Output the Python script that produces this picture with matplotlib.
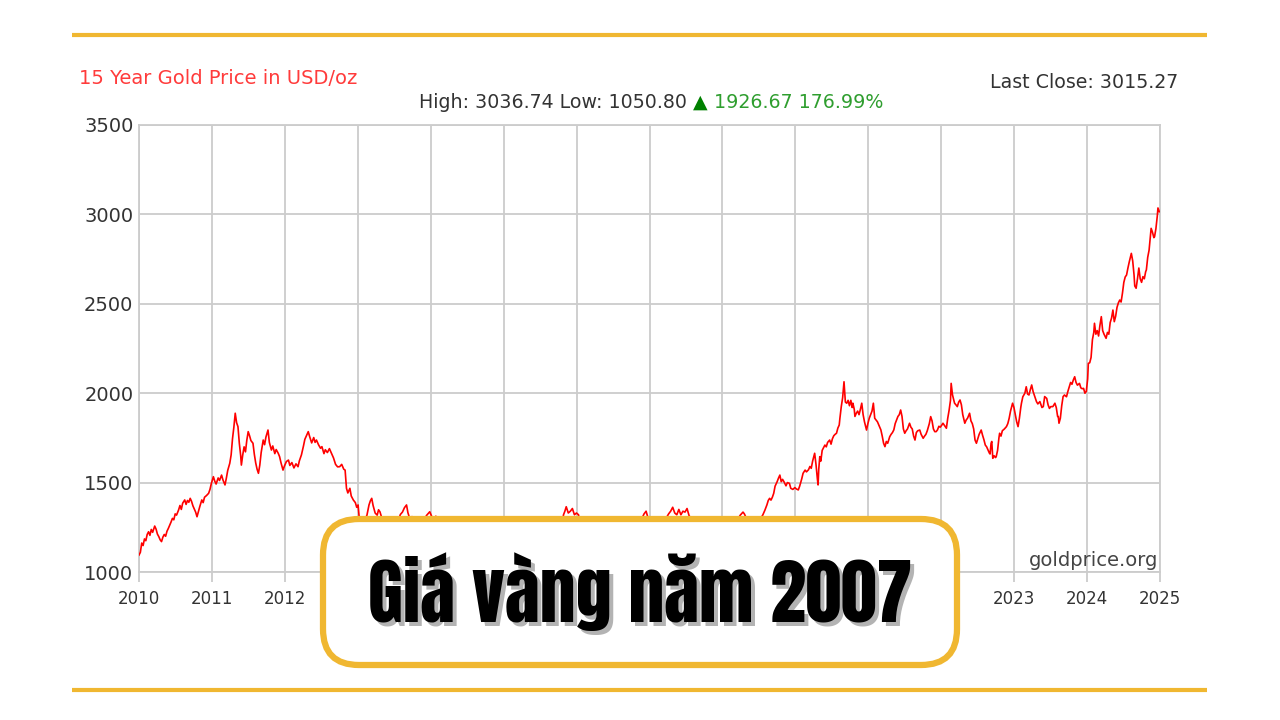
import numpy as np
import matplotlib
matplotlib.use("Agg")
import matplotlib.pyplot as plt
from matplotlib import font_manager as fm
from matplotlib.patches import FancyBboxPatch

# gold price (USD/oz), x in decimal years
dates = [
    2010.27, 2010.29, 2010.31, 2010.33, 2010.35, 2010.37, 2010.39, 2010.41, 2010.43, 2010.45, 2010.47, 2010.50, 2010.52, 2010.54, 2010.56, 2010.58, 2010.60, 2010.62, 2010.64, 2010.66, 2010.68, 2010.70, 2010.72, 2010.74, 2010.76, 2010.78, 2010.80, 2010.82, 2010.85, 2010.87, 2010.89, 2010.91, 2010.94, 2010.96, 2010.98,
    2011.00, 2011.02, 2011.04, 2011.06, 2011.08, 2011.10, 2011.12, 2011.14, 2011.16, 2011.19, 2011.21, 2011.23, 2011.26, 2011.29, 2011.31, 2011.33, 2011.36, 2011.38, 2011.40, 2011.43, 2011.45, 2011.48, 2011.50, 2011.53, 2011.55, 2011.57, 2011.60, 2011.62, 2011.64, 2011.66, 2011.68, 2011.70, 2011.72, 2011.74, 2011.76, 2011.77, 2011.79, 2011.81, 2011.83, 2011.85, 2011.87, 2011.89, 2011.91, 2011.94, 2011.96, 2011.98,
    2012.00, 2012.02, 2012.04, 2012.06, 2012.09, 2012.11, 2012.13, 2012.16, 2012.18, 2012.21, 2012.23, 2012.26, 2012.28, 2012.31, 2012.33, 2012.35, 2012.38, 2012.40, 2012.43, 2012.46, 2012.48, 2012.51, 2012.54, 2012.57, 2012.60, 2012.62, 2012.65, 2012.68, 2012.70, 2012.73, 2012.75, 2012.77, 2012.80, 2012.83, 2012.85, 2012.87, 2012.90, 2012.93, 2012.95, 2012.98,
    2013.00, 2013.03, 2013.06, 2013.09, 2013.12, 2013.15, 2013.18, 2013.21, 2013.24, 2013.27, 2013.29, 2013.31, 2013.33, 2013.36, 2013.38, 2013.41, 2013.44, 2013.46, 2013.48, 2013.50, 2013.52, 2013.55, 2013.58, 2013.61, 2013.64, 2013.66, 2013.68, 2013.70, 2013.73, 2013.76, 2013.78, 2013.80, 2013.83, 2013.86, 2013.89, 2013.92, 2013.95, 2013.98,
    2014.01, 2014.04, 2014.07, 2014.10, 2014.13, 2014.16, 2014.19, 2014.21, 2014.24, 2014.27, 2014.30, 2014.33, 2014.36, 2014.39, 2014.42, 2014.45, 2014.48, 2014.51, 2014.53, 2014.56, 2014.59, 2014.62, 2014.65, 2014.68, 2014.71, 2014.74, 2014.77, 2014.80, 2014.83, 2014.85, 2014.88, 2014.91, 2014.94, 2014.97,
    2015.00, 2015.03, 2015.06, 2015.09, 2015.12, 2015.15, 2015.18, 2015.21, 2015.24, 2015.27, 2015.30, 2015.33, 2015.36, 2015.39, 2015.42, 2015.45, 2015.48, 2015.51, 2015.54, 2015.57, 2015.60, 2015.63, 2015.66, 2015.69, 2015.72, 2015.75, 2015.78, 2015.81, 2015.84, 2015.87, 2015.90, 2015.93, 2015.96, 2015.99,
    2016.02, 2016.05, 2016.08, 2016.11, 2016.14, 2016.17, 2016.20, 2016.23, 2016.26, 2016.29, 2016.32, 2016.35, 2016.38, 2016.41, 2016.44, 2016.47, 2016.49, 2016.51, 2016.53, 2016.56, 2016.59, 2016.62, 2016.65, 2016.68, 2016.71, 2016.74, 2016.77, 2016.80, 2016.83, 2016.86, 2016.89, 2016.92, 2016.95, 2016.98,
    2017.01, 2017.04, 2017.07, 2017.10, 2017.13, 2017.16, 2017.19, 2017.22, 2017.25, 2017.28, 2017.31, 2017.34, 2017.37, 2017.40, 2017.43, 2017.46, 2017.49, 2017.52, 2017.55, 2017.58, 2017.61, 2017.64, 2017.67, 2017.70, 2017.73, 2017.76, 2017.79, 2017.82, 2017.85, 2017.88, 2017.91, 2017.94, 2017.97,
    2018.00, 2018.03, 2018.06, 2018.09, 2018.12, 2018.15, 2018.18, 2018.21, 2018.24, 2018.27, 2018.30, 2018.33, 2018.36, 2018.39, 2018.42, 2018.45, 2018.48, 2018.51, 2018.54, 2018.57, 2018.60, 2018.63, 2018.66, 2018.69, 2018.72, 2018.75, 2018.78, 2018.81, 2018.84, 2018.87, 2018.90, 2018.93, 2018.96, 2018.99,
    2019.02, 2019.05, 2019.08, 2019.12, 2019.14, 2019.17, 2019.20, 2019.23, 2019.26, 2019.29, 2019.32, 2019.35, 2019.38, 2019.41, 2019.44, 2019.47, 2019.49, 2019.51, 2019.53, 2019.55, 2019.57, 2019.59, 2019.62, 2019.64, 2019.66, 2019.68, 2019.70, 2019.72, 2019.75, 2019.77, 2019.80, 2019.82, 2019.85, 2019.88, 2019.90, 2019.93, 2019.95, 2019.98,
    2020.00, 2020.03, 2020.05, 2020.08, 2020.10, 2020.12, 2020.14, 2020.17, 2020.19, 2020.21, 2020.22, 2020.23, 2020.245, 2020.26, 2020.28, 2020.30, 2020.32, 2020.34, 2020.36, 2020.39, 2020.41, 2020.43, 2020.45, 2020.47, 2020.49, 2020.51, 2020.53, 2020.54, 2020.56, 2020.58, 2020.60, 2020.61, 2020.62, 2020.64, 2020.66, 2020.68, 2020.70, 2020.72, 2020.73, 2020.75, 2020.76, 2020.78, 2020.80, 2020.82, 2020.84, 2020.86, 2020.88, 2020.90, 2020.93, 2020.95, 2020.97, 2020.99,
    2021.01, 2021.03, 2021.05, 2021.07, 2021.09, 2021.12, 2021.14, 2021.16, 2021.18, 2021.20, 2021.22, 2021.24, 2021.27, 2021.29, 2021.31, 2021.33, 2021.35, 2021.37, 2021.39, 2021.41, 2021.43, 2021.45, 2021.47, 2021.49, 2021.51, 2021.53, 2021.56, 2021.58, 2021.60, 2021.62, 2021.64, 2021.66, 2021.68, 2021.71, 2021.73, 2021.76, 2021.78, 2021.80, 2021.82, 2021.85, 2021.87, 2021.89, 2021.91, 2021.93, 2021.95, 2021.97, 2021.99,
    2022.01, 2022.03, 2022.05, 2022.08, 2022.10, 2022.12, 2022.14, 2022.16, 2022.17, 2022.19, 2022.22, 2022.24, 2022.26, 2022.28, 2022.30, 2022.32, 2022.34, 2022.37, 2022.39, 2022.41, 2022.44, 2022.46, 2022.48, 2022.50, 2022.52, 2022.54, 2022.56, 2022.58, 2022.61, 2022.63, 2022.65, 2022.67, 2022.69, 2022.71, 2022.73, 2022.74, 2022.755, 2022.765, 2022.78, 2022.80, 2022.82, 2022.83, 2022.85, 2022.87, 2022.88, 2022.90, 2022.92, 2022.95, 2022.98,
    2023.00, 2023.02, 2023.04, 2023.07, 2023.09, 2023.11, 2023.13, 2023.15, 2023.17, 2023.19, 2023.20, 2023.22, 2023.25, 2023.27, 2023.29, 2023.31, 2023.33, 2023.35, 2023.37, 2023.40, 2023.42, 2023.44, 2023.47, 2023.50, 2023.52, 2023.54, 2023.57, 2023.59, 2023.61, 2023.63, 2023.66, 2023.69, 2023.71, 2023.73, 2023.74, 2023.75, 2023.77, 2023.79, 2023.81, 2023.83, 2023.86, 2023.88, 2023.90, 2023.92, 2023.94, 2023.96, 2023.98,
    2024.00, 2024.02, 2024.05, 2024.07, 2024.09, 2024.11, 2024.13, 2024.15, 2024.17, 2024.18, 2024.20, 2024.22, 2024.24, 2024.26, 2024.27, 2024.29, 2024.31, 2024.33, 2024.35, 2024.37, 2024.39, 2024.41, 2024.44, 2024.46, 2024.48, 2024.50, 2024.52, 2024.54, 2024.56, 2024.58, 2024.60, 2024.62, 2024.64, 2024.66, 2024.68, 2024.70, 2024.72, 2024.74, 2024.76, 2024.78, 2024.81, 2024.83, 2024.85, 2024.86, 2024.88, 2024.90, 2024.92, 2024.94, 2024.96, 2024.98,
    2025.00, 2025.02, 2025.03, 2025.05, 2025.07, 2025.09, 2025.10, 2025.12, 2025.14, 2025.15, 2025.17, 2025.19, 2025.20, 2025.22,
]
prices = [
    1095, 1110, 1162, 1148, 1185, 1175, 1210, 1225, 1205, 1238, 1222, 1257, 1240, 1212, 1198, 1180, 1170, 1195, 1210, 1200, 1228, 1244, 1262, 1280, 1300, 1292, 1325, 1318, 1347, 1372, 1350, 1385, 1403, 1378, 1400,
    1390, 1412, 1395, 1370, 1352, 1335, 1309, 1338, 1365, 1403, 1388, 1418, 1428, 1440, 1462, 1495, 1533, 1508, 1492, 1526, 1512, 1542, 1515, 1487, 1525, 1568, 1608, 1655, 1745, 1810, 1888, 1835, 1813, 1720, 1650, 1598, 1655, 1700, 1672, 1738, 1785, 1762, 1735, 1720, 1658, 1610,
    1575, 1552, 1598, 1668, 1738, 1712, 1755, 1794, 1725, 1682, 1705, 1662, 1685, 1664, 1645, 1612, 1570, 1592, 1618, 1626, 1596, 1612, 1582, 1605, 1589, 1622, 1655, 1705, 1742, 1768, 1785, 1758, 1722, 1752, 1725, 1738, 1712, 1692, 1701, 1662,
    1684, 1668, 1690, 1664, 1638, 1602, 1588, 1589, 1602, 1575, 1570, 1468, 1442, 1468, 1425, 1403, 1388, 1362, 1375, 1290, 1240, 1252, 1290, 1318, 1375, 1398, 1412, 1372, 1330, 1318, 1348, 1337, 1300, 1262, 1242, 1232, 1205, 1228,
    1245, 1262, 1290, 1322, 1335, 1360, 1375, 1332, 1295, 1310, 1295, 1302, 1290, 1262, 1255, 1272, 1315, 1328, 1337, 1310, 1302, 1312, 1280, 1240, 1218, 1230, 1245, 1228, 1170, 1150, 1192, 1200, 1212, 1180,
    1192, 1252, 1295, 1262, 1230, 1210, 1178, 1160, 1190, 1202, 1185, 1210, 1200, 1186, 1180, 1175, 1165, 1130, 1090, 1095, 1120, 1135, 1120, 1110, 1135, 1160, 1175, 1140, 1090, 1075, 1065, 1060, 1051, 1065,
    1090, 1100, 1130, 1200, 1230, 1255, 1235, 1220, 1240, 1255, 1285, 1270, 1230, 1210, 1245, 1265, 1320, 1340, 1365, 1330, 1340, 1355, 1320, 1330, 1320, 1260, 1255, 1270, 1270, 1220, 1190, 1170, 1130, 1150,
    1180, 1205, 1195, 1230, 1240, 1255, 1210, 1230, 1245, 1285, 1270, 1230, 1255, 1265, 1275, 1255, 1240, 1215, 1245, 1260, 1280, 1300, 1325, 1340, 1300, 1280, 1295, 1270, 1280, 1290, 1270, 1245, 1265,
    1305, 1325, 1340, 1362, 1330, 1320, 1350, 1320, 1340, 1335, 1355, 1315, 1300, 1290, 1295, 1300, 1270, 1250, 1240, 1225, 1210, 1180, 1195, 1200, 1185, 1190, 1205, 1230, 1220, 1225, 1215, 1240, 1255, 1280,
    1290, 1300, 1318, 1335, 1325, 1300, 1308, 1290, 1300, 1275, 1280, 1285, 1300, 1319, 1345, 1375, 1400, 1412, 1402, 1418, 1440, 1480, 1505, 1525, 1542, 1505, 1518, 1505, 1482, 1500, 1496, 1468, 1462, 1472, 1465, 1459, 1480, 1520,
    1552, 1570, 1560, 1572, 1590, 1580, 1620, 1664, 1600, 1520, 1487, 1575, 1645, 1620, 1680, 1695, 1710, 1700, 1725, 1738, 1715, 1745, 1762, 1770, 1776, 1805, 1822, 1860, 1925, 1975, 2064, 2010, 1950, 1944, 1960, 1930, 1960, 1920, 1944, 1910, 1870, 1888, 1900, 1880, 1910, 1944, 1880, 1840, 1794, 1830, 1860, 1880,
    1900, 1944, 1860, 1850, 1840, 1813, 1795, 1760, 1720, 1701, 1730, 1720, 1757, 1770, 1780, 1795, 1830, 1850, 1870, 1880, 1906, 1870, 1800, 1776, 1790, 1800, 1832, 1810, 1800, 1760, 1738, 1780, 1790, 1794, 1770, 1748, 1760, 1770, 1790, 1830, 1869, 1845, 1800, 1785, 1785, 1795, 1815,
    1810, 1820, 1832, 1815, 1804, 1860, 1905, 1960, 2055, 1990, 1944, 1935, 1925, 1950, 1962, 1935, 1880, 1832, 1850, 1860, 1888, 1845, 1830, 1800, 1738, 1720, 1745, 1770, 1794, 1765, 1740, 1710, 1700, 1682, 1665, 1660, 1720, 1730, 1636, 1650, 1640, 1645, 1680, 1750, 1776, 1760, 1790, 1800, 1813,
    1830, 1860, 1900, 1944, 1920, 1880, 1840, 1813, 1860, 1920, 1944, 1980, 2000, 2036, 1995, 1990, 2020, 2046, 2010, 1975, 1953, 1940, 1953, 1920, 1925, 1981, 1971, 1935, 1915, 1925, 1925, 1944, 1920, 1870, 1869, 1832, 1860, 1930, 1981, 1990, 1980, 2010, 2036, 2060, 2050, 2074, 2092,
    2060, 2045, 2055, 2030, 2025, 2027, 2000, 2010, 2080, 2167, 2170, 2200, 2300, 2340, 2391, 2330, 2350, 2320, 2380, 2428, 2350, 2330, 2307, 2340, 2330, 2395, 2420, 2465, 2400, 2430, 2480, 2505, 2521, 2510, 2560, 2620, 2650, 2661, 2700, 2735, 2782, 2740, 2660, 2600, 2587, 2640, 2700, 2640, 2620, 2652,
    2640, 2680, 2689, 2760, 2800, 2880, 2922, 2900, 2870, 2875, 2920, 2990, 3036, 3015,
]
assert len(dates) == len(prices)

x_range = (2010.27, 2025.23)
tick_labels = ["2010", "2011", "2012", "2013", "2014", "2015", "2016", "2017",
               "2018", "2019", "2020", "2022", "2023", "2024", "2025"]
y_ticks = [1000, 1500, 2000, 2500, 3000, 3500]

chart_title = "15 Year Gold Price in USD/oz"
last_close = "3015.27"
high, low = "3036.74", "1050.80"
change, change_pct = "1926.67", "176.99%"
source = "goldprice.org"
banner = "Giá vàng năm 2007"

GRID = "#cccccc"
GOLD = "#f0b731"

# heavy condensed face for the banner, first one that is installed
installed = {f.name for f in fm.fontManager.ttflist}
banner_family = "DejaVu Sans"
for cand in ["Anton", "Bebas Neue", "Oswald", "Fjalla One", "Open Sans Condensed", "IBM Plex Sans Condensed"]:
    if cand in installed:
        banner_family = cand
        break

fig = plt.figure(figsize=(12.8, 7.2), dpi=100)
fig.patch.set_facecolor("white")

# main chart area
ax = fig.add_axes([139 / 1280, 1 - 572 / 720, (1160 - 139) / 1280, (572 - 125) / 720])
ax.plot(dates, prices, color="#ff0000", lw=1.2, zorder=3)
ax.set_xlim(*x_range)
ax.set_ylim(1000, 3500)
ax.set_yticks(y_ticks)
ax.set_xticks(np.linspace(x_range[0], x_range[1], len(tick_labels)))
ax.set_xticklabels(tick_labels)
ax.grid(True, color=GRID, lw=1.3)
for s in ax.spines.values():
    s.set_color(GRID)
    s.set_linewidth(1.3)
ax.tick_params(axis="y", length=0, pad=4, labelsize=14, labelcolor="#333333")
ax.tick_params(axis="x", length=7, width=1.3, color=GRID, pad=6, labelsize=12, labelcolor="#333333")

# overlay in pixel coordinates for the header texts and the banner
ov = fig.add_axes([0, 0, 1, 1])
ov.set_xlim(0, 1280)
ov.set_ylim(720, 0)
ov.axis("off")
ov.set_zorder(10)
ov.patch.set_alpha(0)

ov.plot([72, 1207], [35, 35], color=GOLD, lw=3, solid_capstyle="butt")
ov.plot([72, 1207], [690, 690], color=GOLD, lw=3, solid_capstyle="butt")

ov.text(79, 79, chart_title, color="#ff3b3b", fontsize=14, va="center", ha="left")
ov.text(1178, 82, f"Last Close: {last_close}", color="#333333", fontsize=13.7, va="center", ha="right")
t1 = ov.text(419, 102, f"High: {high} Low: {low} ", color="#333333", fontsize=13.7, va="center", ha="left")
t2 = ov.annotate("▲", xy=(1, 0), xycoords=t1, va="bottom", ha="left", color="#008000", fontsize=13.7)
ov.annotate(f" {change} {change_pct}", xy=(1, 0), xycoords=t2, va="bottom", ha="left",
            color="#2f9e2f", fontsize=13.7)
ov.text(1158, 561, source, color="#444444", fontsize=14, va="center", ha="right")

box = FancyBboxPatch((323, 519), 957 - 323, 665 - 519,
                     boxstyle="round,pad=0,rounding_size=36",
                     facecolor="white", edgecolor=GOLD, lw=4.5)
ov.add_patch(box)

banner_font = dict(fontsize=56, ha="center", va="baseline",
                   family=[banner_family, "DejaVu Sans"])
shadow = ov.text(644, 626, banner, color="#b3b3b3", **banner_font)
main = ov.text(640, 622, banner, color="#000000", **banner_font)

# fit the banner to the width it has in the reference (about 544 px)
fig.canvas.draw()
w = main.get_window_extent().width
for t in (shadow, main):
    t.set_fontsize(56 * 544 / w)

fig.savefig("out.png", dpi=100, facecolor="white")
